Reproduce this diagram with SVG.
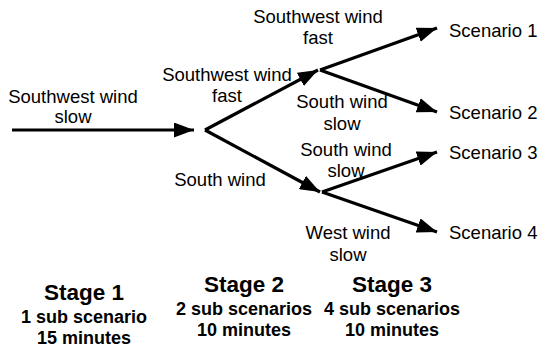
<svg xmlns="http://www.w3.org/2000/svg" width="540" height="349" viewBox="0 0 540 349">
<defs>
<marker id="ah" markerWidth="20" markerHeight="15" refX="20" refY="7.5" orient="auto" markerUnits="userSpaceOnUse">
<path d="M0,0 L20,7.5 L0,15 Z" fill="#000"/>
</marker>
<style>
.e{stroke:#000;stroke-width:3.2;fill:none;marker-end:url(#ah)}
text{font-family:"Liberation Sans",Arial,sans-serif;font-size:18.5px;fill:#000}
.c{text-anchor:middle}
.h{font-weight:bold;font-size:22.5px;text-anchor:middle}
.s{font-weight:bold;font-size:18px;text-anchor:middle}
</style>
</defs>
<rect width="540" height="349" fill="#fff"/>
<g id="connectors">
<line class="e" x1="12" y1="130" x2="194" y2="130"/>
<line class="e" x1="205" y1="130" x2="318" y2="70"/>
<line class="e" x1="205" y1="130" x2="320" y2="192"/>
<line class="e" x1="320" y1="70" x2="437" y2="28"/>
<line class="e" x1="320" y1="70" x2="437" y2="112"/>
<line class="e" x1="322" y1="192" x2="437" y2="152"/>
<line class="e" x1="322" y1="192" x2="437" y2="232"/>
</g>
<g id="edge-labels">
<text class="c" x="73" y="103">Southwest wind</text>
<text class="c" x="73" y="123">slow</text>
<text class="c" x="227" y="81">Southwest wind</text>
<text class="c" x="227" y="102">fast</text>
<text class="c" x="220" y="186">South wind</text>
<text class="c" x="318" y="23">Southwest wind</text>
<text class="c" x="318" y="44">fast</text>
<text class="c" x="342" y="108">South wind</text>
<text class="c" x="342" y="130">slow</text>
<text class="c" x="346" y="156">South wind</text>
<text class="c" x="346" y="177">slow</text>
<text class="c" x="348" y="239">West wind</text>
<text class="c" x="348" y="261">slow</text>
</g>
<g id="scenario1"><text x="449" y="37">Scenario 1</text></g>
<g id="scenario2"><text x="449" y="119">Scenario 2</text></g>
<g id="scenario3"><text x="449" y="159">Scenario 3</text></g>
<g id="scenario4"><text x="449" y="239">Scenario 4</text></g>
<g id="stage1">
<text class="h" x="84" y="300">Stage 1</text>
<text class="s" x="84" y="323">1 sub scenario</text>
<text class="s" x="84" y="344">15 minutes</text>
</g>
<g id="stage2">
<text class="h" x="244" y="292">Stage 2</text>
<text class="s" x="244" y="315">2 sub scenarios</text>
<text class="s" x="244" y="336">10 minutes</text>
</g>
<g id="stage3">
<text class="h" x="392" y="292">Stage 3</text>
<text class="s" x="392" y="315">4 sub scenarios</text>
<text class="s" x="392" y="336">10 minutes</text>
</g>
</svg>
